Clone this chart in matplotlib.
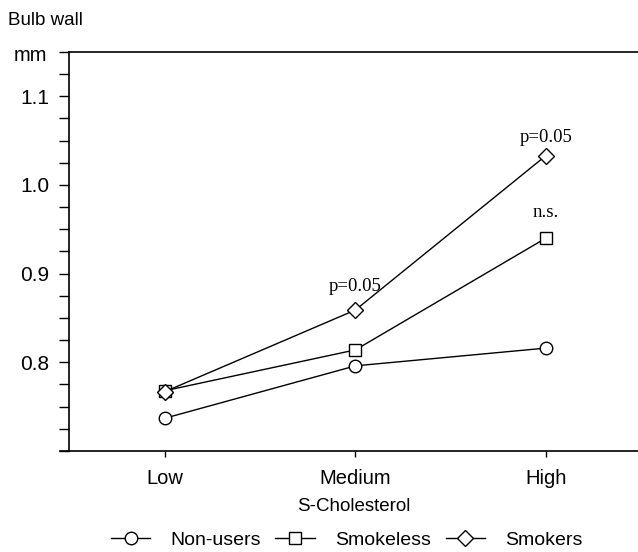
import matplotlib.pyplot as plt
import numpy as np
from matplotlib.ticker import MultipleLocator

# Data
levels = ["Low", "Medium", "High"]
non_users = [0.737, 0.796, 0.816]
smokeless = [0.768, 0.814, 0.940]
smokers = [0.767, 0.859, 1.033]

# significance notes: category index, label height, text
notes_x = [1, 2, 2]
notes_y = [0.885, 1.054, 0.969]
notes_txt = ["p=0.05", "p=0.05", "n.s."]

plt.rcParams['font.family'] = ['Liberation Sans', 'DejaVu Sans']

fig = plt.figure(figsize=(6.38, 5.52), dpi=100)
ax = fig.add_axes([0.108, 0.183, 0.892, 0.723])

x = np.arange(len(levels))
style = dict(color='black', linewidth=1.0, markersize=9, markerfacecolor='white',
             markeredgecolor='black', markeredgewidth=1.0)
ax.plot(x, non_users, marker='o', label='Non-users', **style)
ax.plot(x, smokeless, marker='s', label='Smokeless', **style)
ax.plot(x, smokers, marker='D', label='Smokers', **{**style, 'markersize': 8})

for xi, yi, t in zip(notes_x, notes_y, notes_txt):
    ax.text(xi, yi, t, ha='center', va='center', family='Liberation Serif', fontsize=13.5)

ax.set_xticks(x)
ax.set_xticklabels(levels)
ax.set_ylim(0.70, 1.15)
ax.yaxis.set_major_locator(MultipleLocator(0.1))
ax.yaxis.set_minor_locator(MultipleLocator(0.025))
ax.yaxis.set_major_formatter(plt.FuncFormatter(lambda v, p: "" if v < 0.75 else f"{v:.1f}"))
ax.tick_params(axis='y', which='both', length=7, width=1, labelsize=15, pad=7)
ax.tick_params(axis='x', length=4, width=1, labelsize=14.5, pad=9)
ax.spines['right'].set_visible(False)
for s in ['left', 'top', 'bottom']:
    ax.spines[s].set_linewidth(1.2)

# bottom axis line runs a little past the left axis
ax.plot([-0.55, -0.505], [0.70, 0.70], color='black', linewidth=1.2, clip_on=False)
ax.set_xlim(-0.505, 2.484)

ax.set_xlabel("S-Cholesterol", fontsize=13.5, labelpad=7)
fig.text(0.013, 0.962, "Bulb wall", fontsize=13.5, va='center', ha='left')
fig.text(0.074, 0.899, "mm", fontsize=14.5, va='center', ha='right')

fig.legend(loc='center', bbox_to_anchor=(0.543, 0.022), ncol=3, frameon=False,
           fontsize=14, handlelength=2.05, handletextpad=1.0, columnspacing=0.77,
           borderaxespad=0)

fig.savefig("out.png", dpi=100)
